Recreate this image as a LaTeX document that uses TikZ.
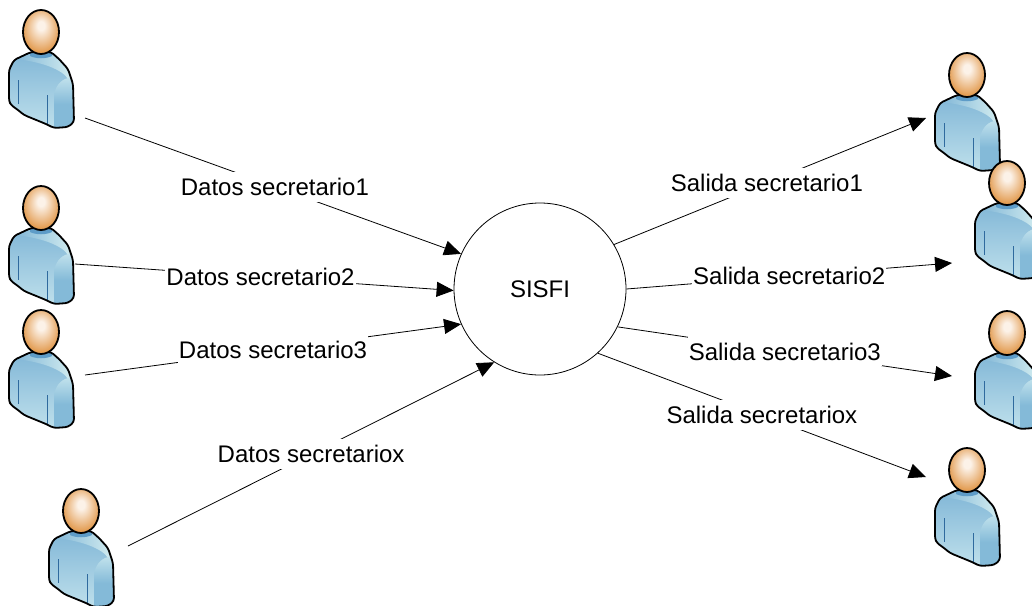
\documentclass[tikz,border=0pt]{standalone}
\usepackage{fontspec}
\setmainfont{Liberation Sans}
\usetikzlibrary{arrows.meta}
\definecolor{skinlight}{HTML}{FCF2E8}
\definecolor{skindark}{HTML}{E29A4E}
\definecolor{shirttop}{HTML}{7FB5D6}
\definecolor{shirtlow}{HTML}{C0E1EC}
\definecolor{shirtlight}{HTML}{D6EFF1}
\definecolor{shirtarm}{HTML}{84BAD8}
\definecolor{shirtneck}{HTML}{5E9CC8}
\definecolor{shirtline}{HTML}{2F6A9E}
\pgfdeclareradialshading{headshade}{\pgfpoint{0bp}{8bp}}{color(0bp)=(skinlight); color(5bp)=(skinlight); color(27bp)=(skindark); color(50bp)=(skindark)}
\newcommand{\bodyoutline}{(-10,20)--(-27,28)--(-32,38)--(-32,69)--(-30,73)--(-23,78)--(-17,83)--(5,92)--(13,96)--(27,95)--(33,90)--(32,52)--(27,37)--(18,27)--(10,20)--cycle}
\tikzset{secretario/.pic={
  \begin{scope}
  \clip[rounded corners=3pt] \bodyoutline;
  \shade[top color=shirttop, bottom color=shirtlow] (-34,18) rectangle (35,98);
  \shade[left color=shirttop, right color=shirtlight] (-28,27)--(-10,18)--(34,18)--(34,47)--(27,47)..controls (22,38) and (0,29) ..(-28,27)--cycle;
  \shade[top color=shirtlow, bottom color=shirtarm, middle color=shirtarm] (34,46)--(27,46)..controls (19,48) and (14,55) ..(13,64)--(13,98)--(34,98)--cycle;
  \fill[shirtneck] (-11,16)--(11,16)--(11,24)..controls (5,27) and (-5,27) ..(-11,24)--cycle;
  \end{scope}
  \draw[shirtline, semithick] (-23,48)--(-23,72);
  \draw[shirtline, semithick] (6,63)--(6,92);
  \draw[usrline, rounded corners=3pt] \bodyoutline;
  \draw[usrline, shading=headshade] (0,0) ellipse [x radius=18, y radius=22];
}}
\tikzset{usrline/.style={line width=1.8pt, black}}
\tikzset{proc/.style={circle, draw, line width=0.8pt, fill=white, minimum size=172pt, inner sep=0pt}}
\tikzset{flow/.style={line width=0.8pt, -{Triangle[length=17pt,width=15pt]}}}
\tikzset{lbl/.style={fill=white, inner sep=1pt, minimum height=30pt, font=\fontsize{24}{24}\selectfont}}
\begin{document}
\begin{tikzpicture}[x=1pt,y=-1pt]
\useasboundingbox (0,0) rectangle (1032,605);
%left users
\pic at (41,32) {secretario};
\pic at (41,208) {secretario};
\pic at (41,332) {secretario};
\pic at (81,511) {secretario};
%right users
\pic at (967,75) {secretario};
\pic at (1007,183) {secretario};
\pic at (1007,333) {secretario};
\pic at (967,470) {secretario};
%process
\node (sisfi) at (540,289)[proc,font=\fontsize{24}{24}\selectfont]{SISFI};
%free ends
\coordinate (in1) at (85,118);
\coordinate (in2) at (75,264);
\coordinate (in3) at (85,375);
\coordinate (inx) at (128,546);
\coordinate (out1) at (926,118);
\coordinate (out2) at (952,263);
\coordinate (out3) at (952,376);
\coordinate (outx) at (926,477);
%inputs
\draw[flow] (in1)--(sisfi.156)node[lbl,pos=0.505]{Datos secretario1};
\draw[flow] (in2)--(sisfi.181)node[lbl,pos=0.49]{Datos secretario2};
\draw[flow] (in3)--(sisfi.204)node[lbl,pos=0.5]{Datos secretario3};
\draw[flow] (inx)--(sisfi.238)node[lbl,pos=0.5]{Datos secretariox};
%outputs
\draw[flow] (sisfi.31)--(out1)node[lbl,pos=0.49]{Salida secretario1};
\draw[flow] (sisfi.0)--(out2)node[lbl,pos=0.5]{Salida secretario2};
\draw[flow] (sisfi.-26)--(out3)node[lbl,pos=0.5]{Salida secretario3};
\draw[flow] (sisfi.-48)--(outx)node[lbl,pos=0.5]{Salida secretariox};
\end{tikzpicture}
\end{document}
